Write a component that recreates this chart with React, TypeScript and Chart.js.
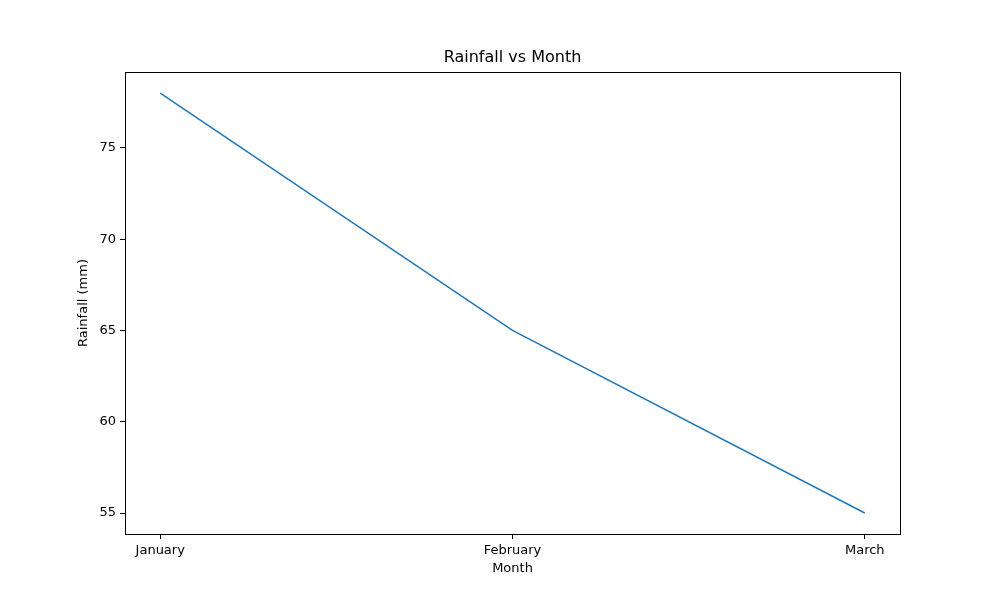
import { useEffect, useRef } from "react";
import { Chart, registerables } from "chart.js";

Chart.register(...registerables);

const MONTHS = ["January", "February", "March"];
const RAINFALL = [78, 65, 55];
const Y_TICKS = [55, 60, 65, 70, 75];
const TITLE = "Rainfall vs Month";
const X_TITLE = "Month";
const Y_TITLE = "Rainfall (mm)";

const FONT = "'DejaVu Sans', sans-serif";

// frame round the plot, plus title and axis titles placed like matplotlib does
const frame = {
  id: "frame",
  afterDraw(chart: Chart) {
    const { ctx, chartArea: a } = chart;
    const cx = (a.left + a.right) / 2;
    const cy = (a.top + a.bottom) / 2;
    ctx.save();
    ctx.strokeStyle = "#000";
    ctx.lineWidth = 1;
    ctx.strokeRect(a.left + 0.5, a.top + 0.5, a.right - a.left, a.bottom - a.top);
    ctx.fillStyle = "#000";
    ctx.textAlign = "center";
    ctx.textBaseline = "middle";
    ctx.font = `16px ${FONT}`;
    ctx.fillText(TITLE, cx, a.top - 14);
    ctx.font = `13px ${FONT}`;
    ctx.fillText(X_TITLE, cx, a.bottom + 35);
    ctx.translate(a.left - 41, cy);
    ctx.rotate(-Math.PI / 2);
    ctx.fillText(Y_TITLE, 0, 0);
    ctx.restore();
  },
};

export default function App() {
  const canvasRef = useRef<HTMLCanvasElement>(null);

  useEffect(() => {
    document.body.style.margin = "0";
    if (!canvasRef.current) return;
    const chart = new Chart(canvasRef.current, {
      type: "line",
      data: {
        datasets: [
          {
            data: RAINFALL.map((v, i) => ({ x: i, y: v })),
            borderColor: "#1f77b4",
            borderWidth: 1.5,
            pointRadius: 0,
            tension: 0,
          },
        ],
      },
      options: {
        animation: false,
        responsive: false,
        layout: { padding: { top: 72, right: 100, bottom: 0, left: 0 } },
        plugins: {
          legend: { display: false },
          tooltip: { enabled: false },
          title: { display: false },
        },
        scales: {
          x: {
            type: "linear",
            min: -0.1,
            max: 2.1,
            afterBuildTicks: (s) => {
              s.ticks = MONTHS.map((_, i) => ({ value: i }));
            },
            afterFit: (s) => {
              s.height = 66;
            },
            ticks: {
              color: "#000",
              font: { family: FONT, size: 13 },
              callback: (v) => MONTHS[Number(v)] ?? "",
              maxRotation: 0,
              padding: 4,
            },
            grid: { drawOnChartArea: false, tickLength: 5, color: "#000" },
            border: { color: "#000" },
          },
          y: {
            min: 53.85,
            max: 79.16,
            afterBuildTicks: (s) => {
              s.ticks = Y_TICKS.map((v) => ({ value: v }));
            },
            afterFit: (s) => {
              s.width = 125;
            },
            ticks: {
              color: "#000",
              font: { family: FONT, size: 13 },
              padding: 4,
            },
            grid: { drawOnChartArea: false, tickLength: 5, color: "#000" },
            border: { color: "#000" },
          },
        },
      },
      plugins: [frame],
    });
    return () => chart.destroy();
  }, []);

  return <canvas ref={canvasRef} width={1000} height={600} />;
}
